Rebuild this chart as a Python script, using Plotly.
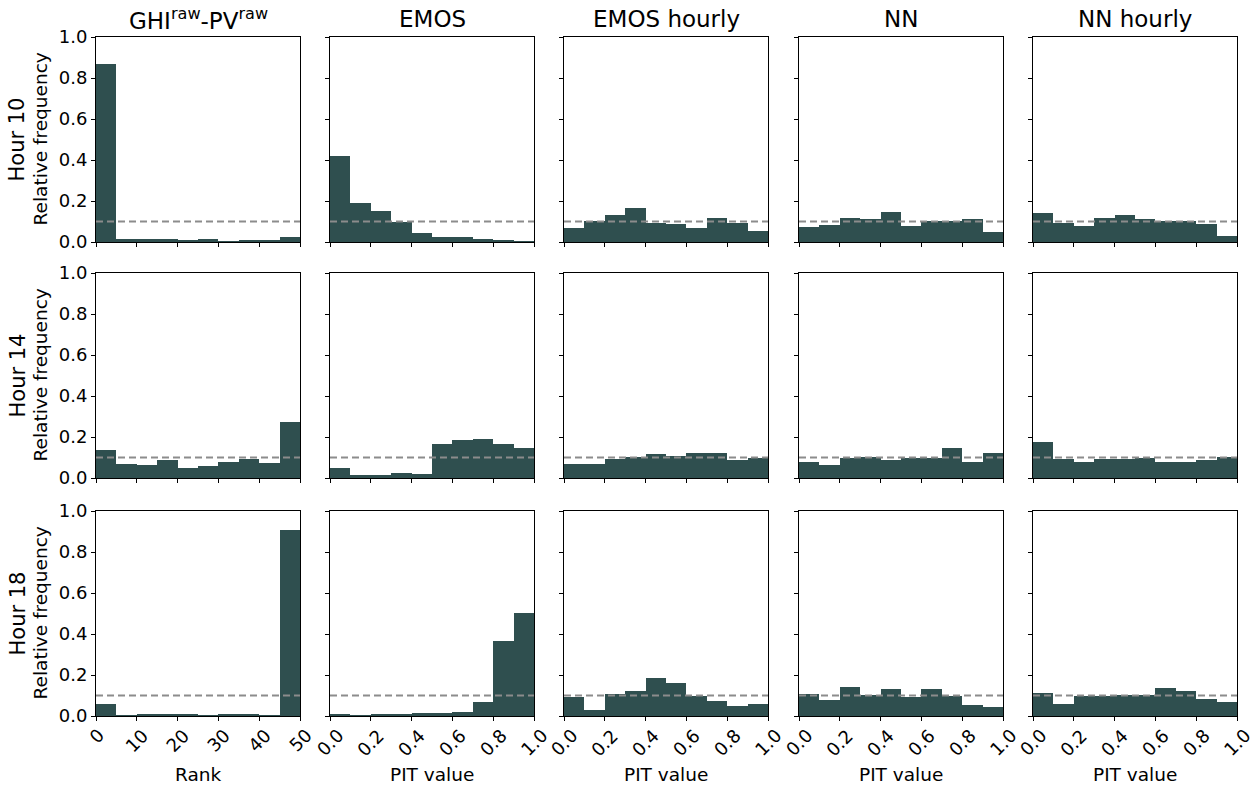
import plotly.graph_objects as go

# ---------------- data ----------------
methods = ["GHI<sup>raw</sup>-PV<sup>raw</sup>", "EMOS", "EMOS hourly", "NN", "NN hourly"]
hours = ["Hour 10", "Hour 14", "Hour 18"]
x_titles = ["Rank", "PIT value", "PIT value", "PIT value", "PIT value"]

rank_edges = [0, 5, 10, 15, 20, 25, 30, 35, 40, 45, 50]
pit_edges = [0.0, 0.1, 0.2, 0.3, 0.4, 0.5, 0.6, 0.7, 0.8, 0.9, 1.0]
rank_ticks = [0, 10, 20, 30, 40, 50]
rank_tick_labels = ["0", "10", "20", "30", "40", "50"]
pit_ticks = [0.0, 0.2, 0.4, 0.6, 0.8, 1.0]
pit_tick_labels = ["0.0", "0.2", "0.4", "0.6", "0.8", "1.0"]
freq_ticks = [0.0, 0.2, 0.4, 0.6, 0.8, 1.0]
freq_tick_labels = ["0.0", "0.2", "0.4", "0.6", "0.8", "1.0"]
uniform_level = 0.1

# Hour 10
h10_raw = [0.868, 0.016, 0.016, 0.016, 0.006, 0.016, 0.002, 0.006, 0.011, 0.026]
h10_emos = [0.418, 0.190, 0.152, 0.100, 0.045, 0.026, 0.026, 0.016, 0.011, 0.001]
h10_emos_h = [0.068, 0.101, 0.132, 0.166, 0.094, 0.089, 0.068, 0.117, 0.094, 0.054]
h10_nn = [0.073, 0.085, 0.117, 0.112, 0.146, 0.078, 0.101, 0.101, 0.112, 0.049]
h10_nn_h = [0.141, 0.093, 0.078, 0.117, 0.132, 0.112, 0.101, 0.101, 0.088, 0.029]
# Hour 14
h14_raw = [0.138, 0.070, 0.065, 0.089, 0.050, 0.060, 0.080, 0.094, 0.075, 0.275]
h14_emos = [0.050, 0.016, 0.016, 0.026, 0.021, 0.167, 0.187, 0.192, 0.167, 0.148]
h14_emos_h = [0.070, 0.070, 0.095, 0.104, 0.119, 0.109, 0.124, 0.124, 0.089, 0.099]
h14_nn = [0.080, 0.065, 0.099, 0.104, 0.089, 0.099, 0.099, 0.148, 0.080, 0.124]
h14_nn_h = [0.177, 0.094, 0.080, 0.094, 0.094, 0.099, 0.080, 0.080, 0.089, 0.104]
# Hour 18
h18_raw = [0.058, 0.001, 0.010, 0.010, 0.010, 0.001, 0.010, 0.010, 0.001, 0.905]
h18_emos = [0.010, 0.002, 0.010, 0.010, 0.015, 0.015, 0.019, 0.068, 0.368, 0.503]
h18_emos_h = [0.094, 0.031, 0.109, 0.124, 0.187, 0.163, 0.099, 0.075, 0.050, 0.060]
h18_nn = [0.109, 0.080, 0.143, 0.104, 0.133, 0.094, 0.133, 0.099, 0.055, 0.046]
h18_nn_h = [0.114, 0.060, 0.099, 0.099, 0.104, 0.104, 0.138, 0.124, 0.085, 0.070]

grid = [
    [h10_raw, h10_emos, h10_emos_h, h10_nn, h10_nn_h],
    [h14_raw, h14_emos, h14_emos_h, h14_nn, h14_nn_h],
    [h18_raw, h18_emos, h18_emos_h, h18_nn, h18_nn_h],
]

# ---------------- layout geometry ----------------
W, H = 1255, 787
col_left = [96, 330, 564, 799, 1033]
panel_w = 204
row_top = [37, 273, 511]
panel_h = 205

BAR = "#2F4F4F"
FONT = "DejaVu Sans"
TICK_SIZE = 18
LABEL_SIZE = 18.5
TITLE_SIZE = 23
ROW_SIZE = 21

fig = go.Figure()
layout = dict(
    width=W, height=H,
    margin=dict(l=0, r=0, t=0, b=0, autoexpand=False),
    paper_bgcolor="white", plot_bgcolor="white",
    showlegend=False, bargap=0,
    font=dict(family=FONT, color="black", size=16),
)
shapes = []
annotations = []

n = 0
for r in range(3):
    for c in range(5):
        n += 1
        xa = "x" if n == 1 else f"x{n}"
        ya = "y" if n == 1 else f"y{n}"
        edges = rank_edges if c == 0 else pit_edges
        centers = [(edges[i] + edges[i + 1]) / 2 for i in range(len(edges) - 1)]
        widths = [edges[i + 1] - edges[i] for i in range(len(edges) - 1)]
        fig.add_trace(go.Bar(
            x=centers, y=grid[r][c], width=widths,
            marker=dict(color=BAR, line=dict(width=0)),
            xaxis=xa, yaxis=ya, hoverinfo="skip",
        ))
        x0 = col_left[c] / W
        x1 = (col_left[c] + panel_w) / W
        y1 = 1 - row_top[r] / H
        y0 = 1 - (row_top[r] + panel_h) / H
        key_x = "xaxis" if n == 1 else f"xaxis{n}"
        key_y = "yaxis" if n == 1 else f"yaxis{n}"
        tvals = rank_ticks if c == 0 else pit_ticks
        ttext = rank_tick_labels if c == 0 else pit_tick_labels
        layout[key_x] = dict(
            domain=[x0, x1], anchor=ya, automargin=False,
            range=[edges[0], edges[-1]],
            tickvals=tvals, showticklabels=False,
            ticks="outside", ticklen=4, tickwidth=1, tickcolor="black",
            showline=True, linecolor="black", linewidth=1, mirror=True,
            showgrid=False, zeroline=False,
        )
        layout[key_y] = dict(
            domain=[y0, y1], anchor=xa, automargin=False,
            range=[0, 1],
            tickvals=freq_ticks, ticktext=freq_tick_labels,
            showticklabels=(c == 0),
            ticks="outside", ticklen=4, tickwidth=1, tickcolor="black",
            showline=True, linecolor="black", linewidth=1, mirror=True,
            showgrid=False, zeroline=False,
            tickfont=dict(size=TICK_SIZE, family=FONT),
        )
        shapes.append(dict(
            type="line", xref=f"{xa} domain", yref=ya,
            x0=0, x1=1, y0=uniform_level, y1=uniform_level,
            line=dict(color="#8c8c8c", width=2, dash="7px,4px"),
            layer="above",
        ))
        # rotated x tick labels centred under ticks (bottom row only)
        if r == 2:
            for tv, tt in zip(tvals, ttext):
                annotations.append(dict(
                    text=tt, xref=xa, yref="paper",
                    x=tv, y=1 - (row_top[r] + panel_h + 6) / H,
                    xanchor="center", yanchor="top", textangle=-45,
                    showarrow=False, font=dict(size=TICK_SIZE, family=FONT),
                ))

# column titles / x axis titles
for c in range(5):
    annotations.append(dict(
        text=methods[c], xref="paper", yref="paper",
        x=(col_left[c] + panel_w / 2) / W, y=1 - 19 / H,
        xanchor="center", yanchor="middle", showarrow=False,
        font=dict(size=TITLE_SIZE, family=FONT),
    ))
    annotations.append(dict(
        text=x_titles[c], xref="paper", yref="paper",
        x=(col_left[c] + panel_w / 2) / W, y=1 - 774 / H,
        xanchor="center", yanchor="middle", showarrow=False,
        font=dict(size=LABEL_SIZE, family=FONT),
    ))

# row labels
for r in range(3):
    yc = 1 - (row_top[r] + panel_h / 2) / H
    annotations.append(dict(
        text=hours[r], xref="paper", yref="paper",
        x=17 / W, y=yc, xanchor="center", yanchor="middle",
        textangle=-90, showarrow=False, font=dict(size=ROW_SIZE, family=FONT),
    ))
    annotations.append(dict(
        text="Relative frequency", xref="paper", yref="paper",
        x=40 / W, y=yc, xanchor="center", yanchor="middle",
        textangle=-90, showarrow=False, font=dict(size=LABEL_SIZE, family=FONT),
    ))

layout["shapes"] = shapes
layout["annotations"] = annotations
fig.update_layout(**layout)
fig.write_html(
    "out.html",
    config={"displayModeBar": False},
    post_script="document.body.style.margin='0';document.body.style.padding='0';document.body.style.overflow='hidden';",
)
